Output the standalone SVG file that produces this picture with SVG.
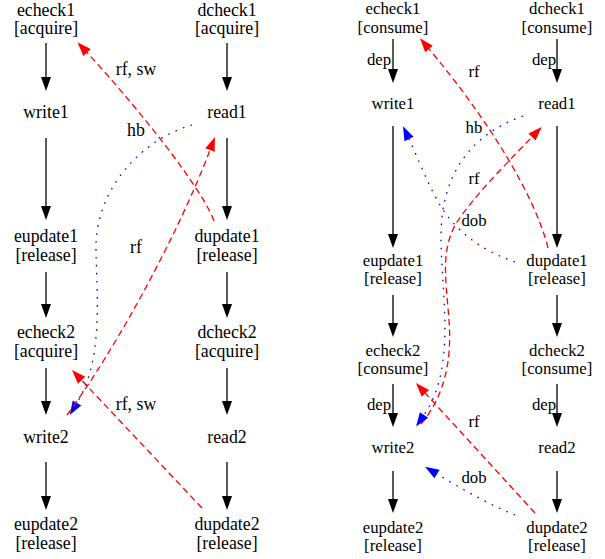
<svg xmlns="http://www.w3.org/2000/svg" width="605" height="559" viewBox="0 0 605 559" font-family="'Liberation Serif', 'DejaVu Serif', serif">
<style>
text{font-family:'Liberation Serif','DejaVu Serif',serif;text-anchor:middle;fill:#000}
.l text{font-size:17.8px}
.r text{font-size:16.8px}
.e{fill:none;stroke-width:1.3}
.k{stroke:#000;marker-end:url(#ak)}
.rd{stroke:#f00;stroke-dasharray:6.5,4;marker-end:url(#ar)}
.bl{stroke:#00f;stroke-dasharray:1.6,6.4;marker-end:url(#ab)}
</style>
<defs>
<marker id="ak" markerUnits="userSpaceOnUse" markerWidth="14" markerHeight="10" refX="0" refY="5" orient="auto" viewBox="0 0 14 10" overflow="visible"><path d="M0,0L14,5L0,10z" fill="#000"/></marker>
<marker id="ar" markerUnits="userSpaceOnUse" markerWidth="14" markerHeight="10" refX="0" refY="5" orient="auto" viewBox="0 0 14 10" overflow="visible"><path d="M0,0L14,5L0,10z" fill="#f00"/></marker>
<marker id="ab" markerUnits="userSpaceOnUse" markerWidth="14" markerHeight="10" refX="0" refY="5" orient="auto" viewBox="0 0 14 10" overflow="visible"><path d="M0,0L14,5L0,10z" fill="#00f"/></marker>
</defs>
<rect width="605" height="559" fill="#fff"/>

<g id="connectors">
<g class="l">
<path class="e k" d="M46,43V77"/>
<path class="e k" d="M46,138V206"/>
<path class="e k" d="M46,272V304"/>
<path class="e k" d="M46,368V401"/>
<path class="e k" d="M46,462V496"/>
<path class="e k" d="M227,43V77"/>
<path class="e k" d="M227,138V206"/>
<path class="e k" d="M227,272V304"/>
<path class="e k" d="M227,368V401"/>
<path class="e k" d="M227,462V496"/>
<path class="e rd" d="M214,221C203,190 140,110 87,52.5"/>
<text x="136" y="75">rf, sw</text>
<path class="e bl" d="M192,125C140,140 95,190 96,250C97,300 103,360 77,403"/>
<text x="136" y="136">hb</text>
<path class="e rd" d="M67,415C115,350 178,235 210,150"/>
<text x="136" y="253">rf</text>
<path class="e rd" d="M202,508L81.6,380.2"/>
<text x="136" y="410">rf, sw</text>
</g>
<g class="r">
<path class="e k" d="M393,39V69"/>
<path class="e k" d="M393,126V234"/>
<path class="e k" d="M393,295V323"/>
<path class="e k" d="M393,384V413"/>
<path class="e k" d="M393,471V499"/>
<path class="e k" d="M557,39V69"/>
<path class="e k" d="M557,126V234"/>
<path class="e k" d="M557,295V323"/>
<path class="e k" d="M557,384V413"/>
<path class="e k" d="M557,471V499"/>
<text x="379" y="65">dep</text>
<text x="544" y="65">dep</text>
<text x="379" y="410">dep</text>
<text x="544" y="410">dep</text>
<path class="e rd" d="M548,248C535,195 487,118 429,49"/>
<text x="474" y="77">rf</text>
<path class="e rd" d="M421,424C445,395 452,360 449,320C446,280 440,250 457,222C475,195 505,165 532,137"/>
<path class="e bl" d="M523,116C470,135 440,175 441,240C442,300 456,368 424,415"/>
<text x="474" y="133">hb</text>
<text x="474" y="184">rf</text>
<path class="e bl" d="M515,262C480,250 455,230 440,205C428,185 418,158 409,139"/>
<text x="474" y="226">dob</text>
<path class="e rd" d="M535,513L425.4,393.3"/>
<text x="474" y="427">rf</text>
<path class="e bl" d="M515,515C490,505 460,488 437,474"/>
<text x="474" y="483">dob</text>
</g>
</g>

<g class="l">
<g id="L_echeck1"><text x="46" y="15.5">echeck1</text><text x="46" y="34">[acquire]</text></g>
<g id="L_write1"><text x="46" y="118">write1</text></g>
<g id="L_eupdate1"><text x="46" y="242">eupdate1</text><text x="46" y="261">[release]</text></g>
<g id="L_echeck2"><text x="46" y="338">echeck2</text><text x="46" y="357">[acquire]</text></g>
<g id="L_write2"><text x="46" y="443">write2</text></g>
<g id="L_eupdate2"><text x="46" y="530">eupdate2</text><text x="46" y="549">[release]</text></g>
<g id="L_dcheck1"><text x="227" y="15.5">dcheck1</text><text x="227" y="34">[acquire]</text></g>
<g id="L_read1"><text x="227" y="118">read1</text></g>
<g id="L_dupdate1"><text x="227" y="242">dupdate1</text><text x="227" y="261">[release]</text></g>
<g id="L_dcheck2"><text x="227" y="338">dcheck2</text><text x="227" y="357">[acquire]</text></g>
<g id="L_read2"><text x="227" y="443">read2</text></g>
<g id="L_dupdate2"><text x="227" y="530">dupdate2</text><text x="227" y="549">[release]</text></g>
</g>
<g class="r">
<g id="R_echeck1"><text x="393" y="14">echeck1</text><text x="393" y="32.5">[consume]</text></g>
<g id="R_write1"><text x="393" y="109">write1</text></g>
<g id="R_eupdate1"><text x="393" y="266">eupdate1</text><text x="393" y="284">[release]</text></g>
<g id="R_echeck2"><text x="393" y="356">echeck2</text><text x="393" y="374">[consume]</text></g>
<g id="R_write2"><text x="393" y="453">write2</text></g>
<g id="R_eupdate2"><text x="393" y="533">eupdate2</text><text x="393" y="551">[release]</text></g>
<g id="R_dcheck1"><text x="557" y="14">dcheck1</text><text x="557" y="32.5">[consume]</text></g>
<g id="R_read1"><text x="557" y="109">read1</text></g>
<g id="R_dupdate1"><text x="557" y="266">dupdate1</text><text x="557" y="284">[release]</text></g>
<g id="R_dcheck2"><text x="557" y="356">dcheck2</text><text x="557" y="374">[consume]</text></g>
<g id="R_read2"><text x="557" y="453">read2</text></g>
<g id="R_dupdate2"><text x="557" y="533">dupdate2</text><text x="557" y="551">[release]</text></g>
</g>
</svg>
